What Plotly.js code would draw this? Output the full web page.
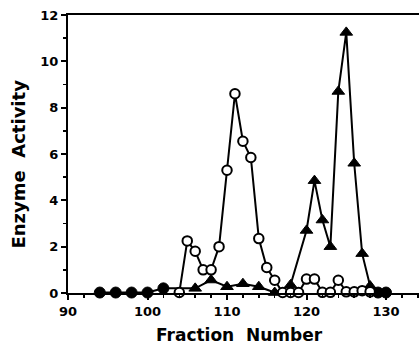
<!DOCTYPE html>
<html>
<head>
<meta charset="utf-8">
<script src="https://cdn.plot.ly/plotly-3.0.1.min.js"></script>
<style>html,body{margin:0;padding:0;background:#fff;}#chart{width:419px;height:344px;}</style>
</head>
<body>
<div id="chart"></div>
<script>
// Open circles series
const openX = [104,105,106,107,108,109,110,111,112,113,114,115,116,117,118,119,120,121,122,123,124,125,126,127,128];
const openY = [0.02,2.25,1.8,1.0,1.0,2.0,5.3,8.6,6.55,5.85,2.35,1.1,0.55,0.02,0.02,0.02,0.6,0.6,0.03,0.03,0.55,0.05,0.05,0.1,0.05];

// Filled series (filled circles at ends, filled triangles in between)
const filledX = [94,96,98,100,102,106,108,110,112,114,116,118,120,121,122,123,124,125,126,127,128,129,130];
const filledY = [0.02,0.02,0.02,0.02,0.2,0.2,0.56,0.27,0.4,0.27,0.02,0.35,2.7,4.85,3.15,2.0,8.7,11.25,5.6,1.7,0.3,0.02,0.02];
const filledSym = ['circle','circle','circle','circle','circle','triangle-up','triangle-up','triangle-up','triangle-up','triangle-up','triangle-up','triangle-up','triangle-up','triangle-up','triangle-up','triangle-up','triangle-up','triangle-up','triangle-up','triangle-up','triangle-up','circle','circle'];

const xTicks = [90,100,110,120,130];
const yTicks = [0,2,4,6,8,10,12];
const xTitle = 'Fraction\u00a0\u00a0Number';
const yTitle = 'Enzyme\u00a0\u00a0Activity';

const traces = [
  {
    x: filledX, y: filledY, type: 'scatter', mode: 'lines+markers', cliponaxis: false,
    line: {color: '#000000', width: 2},
    marker: {symbol: filledSym, size: 11, color: '#000000', opacity: 1, line: {color: '#000000', width: 1}}
  },
  {
    x: openX, y: openY, type: 'scatter', mode: 'lines+markers', cliponaxis: false,
    line: {color: '#000000', width: 2},
    marker: {symbol: 'circle', size: 9.5, color: '#ffffff', opacity: 1, line: {color: '#000000', width: 2}}
  }
];

const tickFont = {family: 'DejaVu Sans', size: 13, color: '#000', weight: 'bold'};

const layout = {
  width: 419, height: 344,
  margin: {l: 68, r: 0, t: 15, b: 51},
  paper_bgcolor: '#fff', plot_bgcolor: '#fff',
  showlegend: false,
  xaxis: {
    range: [90, 134.15], tickvals: xTicks, ticktext: xTicks.map(String),
    showgrid: false, zeroline: false,
    showline: true, linecolor: '#000', linewidth: 2, mirror: true,
    ticks: 'outside', ticklen: 5, tickwidth: 2, tickcolor: '#000',
    minor: {dtick: 2, tick0: 90, ticks: 'outside', ticklen: 3, tickwidth: 1.5, tickcolor: '#000', showgrid: false},
    tickfont: tickFont
  },
  yaxis: {
    range: [0, 12], tickvals: yTicks, ticktext: yTicks.map(String),
    showgrid: false, zeroline: false,
    showline: true, linecolor: '#000', linewidth: 2,
    ticks: 'outside', ticklen: 5, tickwidth: 2, tickcolor: '#000',
    minor: {dtick: 1, tick0: 0, ticks: 'outside', ticklen: 3, tickwidth: 1.5, tickcolor: '#000', showgrid: false},
    tickfont: tickFont
  },
  annotations: [
    {text: xTitle, xref: 'paper', yref: 'paper', x: 0.4886, y: -0.151, xanchor: 'center', yanchor: 'middle',
     showarrow: false, font: {family: 'DejaVu Sans', size: 17, color: '#000', weight: 'bold'}},
    {text: yTitle, xref: 'paper', yref: 'paper', x: -0.1396, y: 0.462, xanchor: 'center', yanchor: 'middle',
     textangle: -90, showarrow: false, font: {family: 'DejaVu Sans', size: 18, color: '#000', weight: 'bold'}}
  ]
};

Plotly.newPlot('chart', traces, layout, {displayModeBar: false, staticPlot: true});
</script>
</body>
</html>
